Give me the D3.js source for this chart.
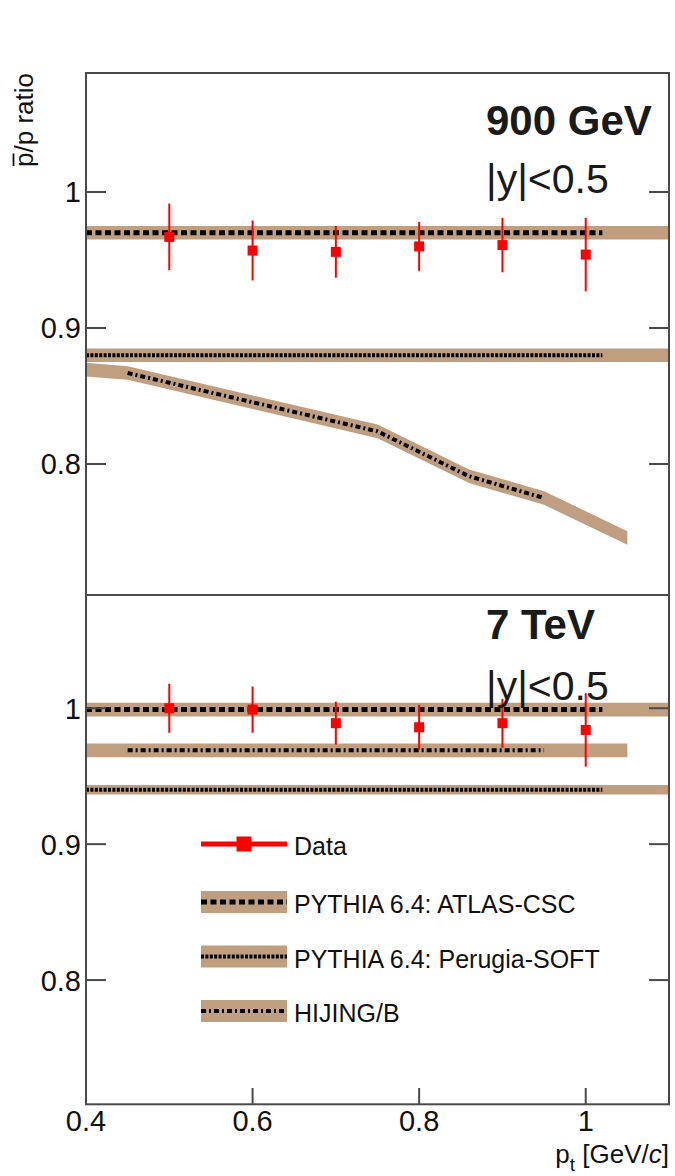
<!DOCTYPE html>
<html>
<head>
<meta charset="utf-8">
<script src="https://cdn.jsdelivr.net/npm/d3@7"></script>
<style>
html,body{margin:0;padding:0;background:#fff;}
svg{display:block;font-family:"Liberation Sans",Arial,sans-serif;}
</style>
</head>
<body>
<svg id="chart" width="675" height="1176"></svg>
<script>
// ---------- data ----------
const ptValues = [0.5, 0.6, 0.7, 0.8, 0.9, 1.0];
const ratio900 = [0.967, 0.957, 0.956, 0.960, 0.961, 0.954];
const err900   = [0.0245, 0.022, 0.019, 0.018, 0.020, 0.027];
const ratio7   = [1.000, 0.999, 0.989, 0.986, 0.989, 0.984];
const err7     = [0.018, 0.017, 0.0157, 0.0165, 0.018, 0.027];

const atlas900 = 0.970, atlas7 = 0.999;
const perugia900 = 0.880, perugia7 = 0.940;
const hijing7 = 0.969;
const hijing900Pt  = [0.40, 0.45, 0.75, 0.86, 0.95, 1.05];
const hijing900Val = [0.8694, 0.8669, 0.824, 0.791, 0.775, 0.7456];

const yTicks = [0.8, 0.9, 1];
const xTicks = [0.4, 0.6, 0.8, 1];
const xTickLabels = ["0.4", "0.6", "0.8", "1"];
const yTickLabels = ["0.8", "0.9", "1"];
const legendLabels = ["Data", "PYTHIA 6.4: ATLAS-CSC", "PYTHIA 6.4: Perugia-SOFT", "HIJING/B"];

// ---------- layout ----------
const band = "#bf9f80";
const frameCol = "#4a4a4a";
const svg = d3.select("#chart");
const L = 86, R = 669;
const x = d3.scaleLinear().domain([0.4, 1.1]).range([L, R]);
const yTop = d3.scaleLinear().domain([0.7037, 1.0875]).range([595, 73]);
const yBot = d3.scaleLinear().domain([0.7086, 1.0833]).range([1104.3, 595]);

const dashAtlas = "6,3.5";
const dashPerugia = "3,1.4";
const dashHijing = "5,3,2,3";

function drawPanel(y, cfg, id) {
  const g = svg.append("g");
  const top = y.range()[1], bottom = y.range()[0];
  g.append("clipPath").attr("id", id).append("rect")
    .attr("x", L).attr("y", top).attr("width", R - L).attr("height", bottom - top);
  const c = g.append("g").attr("clip-path", `url(#${id})`);

  cfg.bands.forEach(b => {
    const pts = b.pts.map((p, i) => ({x: p, v: b.vals[i]}));
    c.append("path").datum(pts)
      .attr("fill", band)
      .attr("d", d3.area().x(d => x(d.x)).y0(d => y(d.v - b.hw)).y1(d => y(d.v + b.hw)));
  });
  cfg.lines.forEach(l => {
    const pts = l.pts.map((p, i) => ({x: p, v: l.vals[i]}));
    c.append("path").datum(pts)
      .attr("fill", "none").attr("stroke", "#000").attr("stroke-width", l.w || 5)
      .attr("stroke-dasharray", l.dash)
      .attr("d", d3.line().x(d => x(d.x)).y(d => y(d.v)));
  });
  const data = cfg.vals.map((v, i) => ({x: ptValues[i], v, e: cfg.errs[i]}));
  c.selectAll(".eb").data(data).enter().append("line")
    .attr("x1", d => x(d.x)).attr("x2", d => x(d.x))
    .attr("y1", d => y(d.v - d.e)).attr("y2", d => y(d.v + d.e))
    .attr("stroke", "#ff0000").attr("stroke-width", 2);
  c.selectAll(".pt").data(data).enter().append("rect")
    .attr("x", d => x(d.x) - 5).attr("y", d => y(d.v) - 5)
    .attr("width", 10).attr("height", 10).attr("fill", "#ff0000");

  yTicks.forEach((t, i) => {
    g.append("line").attr("x1", L).attr("x2", L + 20).attr("y1", y(t)).attr("y2", y(t))
      .attr("stroke", frameCol).attr("stroke-width", 2);
    g.append("line").attr("x1", R - 20).attr("x2", R).attr("y1", y(t)).attr("y2", y(t))
      .attr("stroke", frameCol).attr("stroke-width", 2);
    g.append("text").attr("x", 81).attr("y", y(t)).attr("dy", "0.36em")
      .attr("text-anchor", "end").attr("font-size", 29).attr("fill", "#111")
      .text(yTickLabels[i]);
  });

  g.append("rect").attr("x", L).attr("y", top).attr("width", R - L).attr("height", bottom - top)
    .attr("fill", "none").attr("stroke", frameCol).attr("stroke-width", 2);

  g.append("text").attr("x", 486).attr("y", cfg.titleY).attr("font-size", 42)
    .attr("font-weight", "bold").attr("fill", "#1a1a1a").text(cfg.title);
  g.append("text").attr("x", 486).attr("y", cfg.titleY + cfg.subDy).attr("font-size", 41)
    .attr("fill", "#1a1a1a").text("|y|<0.5");
  return g;
}

const full = [0.4, 1.1];
drawPanel(yTop, {
  bands: [
    {pts: full, vals: [atlas900, atlas900], hw: 0.005},
    {pts: full, vals: [perugia900, perugia900], hw: 0.005},
    {pts: hijing900Pt, vals: hijing900Val, hw: 0.005}
  ],
  lines: [
    {pts: [0.4, 1.02], vals: [atlas900, atlas900], dash: dashAtlas},
    {pts: [0.4, 1.02], vals: [perugia900, perugia900], dash: dashPerugia, w: 4},
    {pts: hijing900Pt.slice(1, 5), vals: hijing900Val.slice(1, 5), dash: dashHijing, w: 4}
  ],
  vals: ratio900, errs: err900, title: "900 GeV", titleY: 135, subDy: 58
}, "clipTop");

drawPanel(yBot, {
  bands: [
    {pts: full, vals: [atlas7, atlas7], hw: 0.005},
    {pts: [0.4, 1.05], vals: [hijing7, hijing7], hw: 0.005},
    {pts: full, vals: [perugia7, perugia7], hw: 0.0035}
  ],
  lines: [
    {pts: [0.4, 1.02], vals: [atlas7, atlas7], dash: dashAtlas},
    {pts: [0.45, 0.95], vals: [hijing7, hijing7], dash: dashHijing, w: 4},
    {pts: [0.4, 1.02], vals: [perugia7, perugia7], dash: dashPerugia, w: 4}
  ],
  vals: ratio7, errs: err7, title: "7 TeV", titleY: 639, subDy: 61
}, "clipBot");

xTicks.forEach((t, i) => {
  if (i > 0) {
    svg.append("line").attr("x1", x(t)).attr("x2", x(t)).attr("y1", 1104.3).attr("y2", 1088)
      .attr("stroke", frameCol).attr("stroke-width", 2);
  }
  svg.append("text").attr("x", x(t)).attr("y", 1131).attr("text-anchor", "middle")
    .attr("font-size", 29).attr("fill", "#111").text(xTickLabels[i]);
});

const xt = svg.append("text").attr("x", 669).attr("y", 1163).attr("text-anchor", "end")
  .attr("font-size", 26).attr("fill", "#111");
xt.append("tspan").text("p");
xt.append("tspan").attr("dy", 8).attr("font-size", 19).text("t");
xt.append("tspan").attr("dy", -8).text(" [GeV/");
xt.append("tspan").attr("font-style", "italic").text("c");
xt.append("tspan").text("]");

const yg = svg.append("g").attr("transform", "translate(33,73) rotate(-90)");
const yt = yg.append("text").attr("x", 0).attr("y", 0).attr("text-anchor", "end")
  .attr("font-size", 26).attr("fill", "#111").text("p/p ratio");
const ext = yt.node().getExtentOfChar(0);
yg.append("line").attr("x1", ext.x + 1).attr("x2", ext.x + ext.width - 1)
  .attr("y1", -19.5).attr("y2", -19.5).attr("stroke", "#111").attr("stroke-width", 1.8);

const legY = [844, 902, 956.5, 1011];
const legDash = [null, dashAtlas, dashPerugia, dashHijing];
const lx0 = 201, lx1 = 287;
legendLabels.forEach((lab, i) => {
  const cy = legY[i];
  if (i === 0) {
    svg.append("line").attr("x1", lx0).attr("x2", lx1).attr("y1", cy).attr("y2", cy)
      .attr("stroke", "#ff0000").attr("stroke-width", 5);
    svg.append("rect").attr("x", (lx0 + lx1) / 2 - 7.5).attr("y", cy - 7.5)
      .attr("width", 15).attr("height", 15).attr("fill", "#ff0000");
  } else {
    svg.append("rect").attr("x", lx0).attr("y", cy - 11).attr("width", lx1 - lx0).attr("height", 22)
      .attr("fill", band);
    svg.append("line").attr("x1", lx0).attr("x2", lx1).attr("y1", cy).attr("y2", cy)
      .attr("stroke", "#000").attr("stroke-width", i === 1 ? 5 : 4).attr("stroke-dasharray", legDash[i]);
  }
  svg.append("text").attr("x", 294).attr("y", cy + 11).attr("font-size", 25)
    .attr("fill", "#111").text(lab);
});
</script>
</body>
</html>
